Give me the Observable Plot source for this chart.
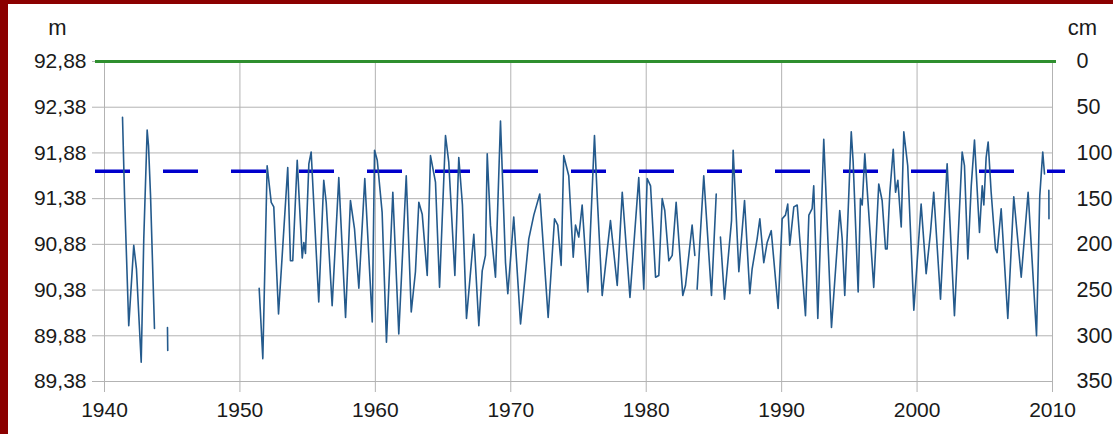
<!DOCTYPE html>
<html>
<head>
<meta charset="utf-8">
<script src="https://cdn.jsdelivr.net/npm/d3@7"></script>
<script src="https://cdn.jsdelivr.net/npm/@observablehq/plot@0.6"></script>
<style>
html, body { margin: 0; padding: 0; background: #ffffff; overflow: hidden; width: 1113px; height: 434px; }
#frame { position: absolute; left: 0; top: 0; width: 1113px; height: 434px; box-sizing: border-box; border-top: 4px solid #8b0000; border-left: 8px solid #8b0000; }
#chart { position: absolute; left: 8px; top: 4px; }
</style>
</head>
<body>
<div id="frame"></div>
<div id="chart"></div>
<script>
// Year ticks (x axis)
const xTicks = [1940, 1950, 1960, 1970, 1980, 1990, 2000, 2010];
// Water level ticks (m) and matching labels
const yTicks = [89.38, 89.88, 90.38, 90.88, 91.38, 91.88, 92.38, 92.88];
const yTickLabels = ["89,38", "89,88", "90,38", "90,88", "91,38", "91,88", "92,38", "92,88"];
// Gauge reading (cm below gauge zero) labels at the same ticks
const cmTickLabels = ["350", "300", "250", "200", "150", "100", "50", "0"];
// Reference levels
const gaugeZeroLevel = [92.88];   // 0 cm
const markedLevel = [91.68];      // 120 cm, dashed

// Observed water level (m); null marks a gap in the record
const years = [
  1941.33, 1941.48, 1941.79, 1942.16, 1942.36, 1942.71, 1942.90, 1943.15, 1943.25, 1943.40, 1943.69,
  null,
  1944.65, 1944.67,
  null,
  1951.42, 1951.69, 1952.01, 1952.31, 1952.50, 1952.85, 1953.53, 1953.73, 1953.90, 1954.23, 1954.60,
  1954.72, 1954.84, 1955.09, 1955.26, 1955.82, 1956.19, 1956.37, 1956.81, 1957.30, 1957.80, 1958.16,
  1958.46, 1958.78, 1959.22, 1959.77, 1959.94, 1960.14, 1960.50, 1960.82, 1961.29, 1961.73, 1962.28,
  1962.65, 1962.96, 1963.21, 1963.46, 1963.83, 1964.07, 1964.44, 1964.74, 1965.18, 1965.42, 1965.87,
  1966.16, 1966.43, 1966.73, 1967.27, 1967.64, 1967.89, 1968.13, 1968.26, 1968.50, 1968.87, 1969.24,
  1969.61, 1969.78, 1970.22, 1970.72, 1971.33, 1971.70, 1972.14, 1972.76, 1973.23, 1973.47, 1973.72,
  1973.91, 1974.28, 1974.61, 1974.78, 1975.02, 1975.27, 1975.69, 1976.18, 1976.38, 1976.75, 1977.36,
  1977.86, 1978.23, 1978.80, 1979.45, 1979.82, 1980.07, 1980.32, 1980.69, 1980.93, 1981.18, 1981.37,
  1981.67, 1981.92, 1982.21, 1982.70, 1982.90, 1983.39, 1983.59,
  null,
  1983.76, 1984.25, 1984.82, 1985.17,
  null,
  1985.48, 1985.78, 1986.30, 1986.42, 1986.84, 1987.26, 1987.65, 1987.82, 1988.19, 1988.39, 1988.68,
  1988.93, 1989.23, 1989.74, 1990.04, 1990.28, 1990.45, 1990.60, 1990.90, 1991.15, 1991.76, 1992.01,
  1992.25, 1992.37, 1992.67, 1993.11, 1993.68, 1994.29, 1994.47, 1994.66, 1994.84, 1995.14, 1995.28,
  1995.65, 1995.82, 1995.95, 1996.14, 1996.80, 1997.17, 1997.42, 1997.67, 1997.79, 1997.99, 1998.24,
  1998.41, 1998.58, 1998.83, 1999.02, 1999.31, 1999.76, 2000.30, 2000.67, 2000.99, 2001.23, 2001.73,
  2002.22, 2002.76, 2003.33, 2003.50, 2003.75, 2004.00, 2004.24, 2004.61, 2004.81, 2004.93, 2005.10,
  2005.25, 2005.47, 2005.79, 2005.91, 2006.21, 2006.70, 2007.14, 2007.69, 2008.20, 2008.82, 2009.06,
  2009.28, 2009.41,
  null,
  2009.73, 2009.74
];
const levels = [
  92.27, 91.41, 89.99, 90.87, 90.61, 89.59, 90.94, 92.13, 91.96, 91.41, 89.96,
  null,
  89.97, 89.72,
  null,
  90.40, 89.63, 91.74, 91.34, 91.29, 90.12, 91.72, 90.70, 90.70, 91.80, 90.73,
  90.90, 90.78, 91.76, 91.89, 90.25, 91.58, 91.34, 90.21, 91.61, 90.08, 91.36,
  91.05, 90.40, 91.60, 90.03, 91.91, 91.80, 91.23, 89.81, 91.45, 89.90, 91.63,
  90.14, 90.58, 91.34, 91.21, 90.54, 91.85, 91.56, 90.41, 92.07, 91.78, 90.54,
  91.83, 91.31, 90.07, 90.99, 89.99, 90.59, 90.76, 91.87, 91.09, 90.52, 92.23,
  90.68, 90.34, 91.18, 90.01, 90.94, 91.20, 91.43, 90.08, 91.16, 91.09, 90.65,
  91.85, 91.63, 90.74, 91.09, 90.96, 91.31, 90.36, 92.07, 91.41, 90.32, 91.14,
  90.43, 91.45, 90.30, 91.61, 90.39, 91.60, 91.52, 90.52, 90.54, 91.38, 91.25,
  90.70, 90.76, 91.34, 90.32, 90.43, 91.09, 90.76,
  null,
  90.39, 91.63, 90.32, 91.43,
  null,
  90.96, 90.28, 91.14, 91.91, 90.58, 91.36, 90.34, 90.61, 90.94, 91.16, 90.68,
  90.90, 91.03, 90.18, 91.16, 91.20, 91.32, 90.87, 91.29, 91.31, 90.10, 91.20,
  91.27, 91.52, 90.07, 92.03, 89.97, 91.25, 90.94, 90.32, 90.98, 92.11, 91.78,
  90.36, 91.38, 91.31, 91.87, 90.41, 91.54, 91.36, 90.83, 90.83, 91.45, 91.92,
  91.45, 91.58, 91.07, 92.11, 91.74, 90.16, 91.32, 90.56, 91.01, 91.45, 90.28,
  91.76, 90.10, 91.89, 91.74, 90.72, 91.52, 92.02, 91.01, 91.52, 91.31, 91.83,
  92.00, 91.45, 90.83, 90.79, 91.27, 90.07, 91.40, 90.52, 91.45, 89.88, 91.41,
  91.89, 91.65,
  null,
  91.47, 91.16
];

const series = years.map((y, i) => ({year: y, level: levels[i]}));

const grid = "#b3b3b3";
const ink = "#1a1a1a";
const fs = 21;

const chart = Plot.plot({
  width: 1105,
  height: 430,
  marginLeft: 96,
  marginRight: 61,
  marginTop: 57,
  marginBottom: 53,
  style: {fontFamily: "'Liberation Sans', Arial, sans-serif", fontSize: fs + "px", color: ink, background: "#ffffff"},
  x: {domain: [xTicks[0], xTicks[xTicks.length - 1]]},
  y: {domain: [yTicks[0], yTicks[yTicks.length - 1]]},
  marks: [
    Plot.gridX(xTicks, {stroke: grid, strokeOpacity: 1}),
    Plot.gridY(yTicks, {stroke: grid, strokeOpacity: 1}),
    Plot.axisX(xTicks, {tickSize: 11, tickPadding: 10, stroke: grid, fill: ink, fontSize: fs, tickFormat: d => String(d), label: null}),
    Plot.axisY(yTicks, {anchor: "left", tickSize: 12, tickPadding: 6, stroke: grid, fill: ink, fontSize: fs,
      tickFormat: d => yTickLabels[yTicks.indexOf(d)], label: null}),
    Plot.axisY(yTicks, {anchor: "right", tickSize: 0, tickPadding: 24, fill: ink, fontSize: fs + 0.5,
      tickFormat: d => cmTickLabels[yTicks.indexOf(d)], label: null}),
    Plot.ruleY(gaugeZeroLevel, {y: d => d, x1: xTicks[0], x2: xTicks[xTicks.length - 1], insetLeft: -9, insetRight: -4,
      stroke: "#2f8f2f", strokeWidth: 3}),
    Plot.ruleY(markedLevel, {y: d => d, x1: xTicks[0], x2: xTicks[xTicks.length - 1], insetLeft: -9, insetRight: -13,
      stroke: "#0000cc", strokeWidth: 3.5, strokeDasharray: "35,33"}),
    Plot.line(series, {x: "year", y: "level", stroke: "#245a8c", strokeWidth: 1.6}),
    Plot.text(["m"], {text: d => d, frameAnchor: "top-left", dx: -47, dy: -34, textAnchor: "middle", lineAnchor: "middle", fontSize: 22, fill: ink}),
    Plot.text(["cm"], {text: d => d, frameAnchor: "top-right", dx: 30, dy: -34, textAnchor: "middle", lineAnchor: "middle", fontSize: 22, fill: ink})
  ]
});

document.getElementById("chart").appendChild(chart);
</script>
</body>
</html>
